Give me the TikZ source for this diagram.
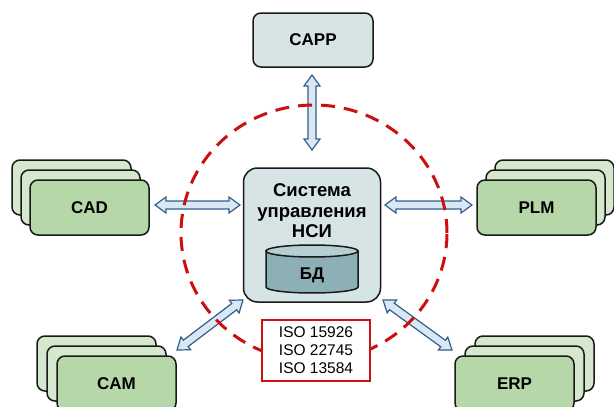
\documentclass[tikz,border=0pt]{standalone}
\usepackage{fontspec}
\setmainfont{Liberation Sans}
\usetikzlibrary{calc}
\definecolor{boxgray}{HTML}{D7E4E6}
\definecolor{greenfront}{HTML}{B6D7A8}
\definecolor{greenback}{HTML}{D5E8CD}
\definecolor{cylfill}{HTML}{8DB0B6}
\definecolor{cyltop}{HTML}{B5CFD3}
\definecolor{arrfill}{HTML}{DAE8F5}
\definecolor{arrline}{HTML}{335E8C}
\definecolor{dashred}{HTML}{CC1010}
\tikzset{
  sysbox/.style={draw=black!90, line width=1.5pt, rounded corners=8pt,
    minimum width=119pt, minimum height=55pt, inner sep=0pt,
    font=\fontsize{17}{18}\selectfont\bfseries},
  frontbox/.style={sysbox, fill=greenfront},
  backbox/.style={sysbox, fill=greenback},
  grayboxsty/.style={sysbox, fill=boxgray, minimum width=120pt, minimum height=54pt},
  arrowsty/.style={fill=arrfill, draw=arrline, line width=1.2pt, line join=miter},
  ringsty/.style={draw=dashred, line width=3pt, dash pattern=on 14pt off 9pt},
}
\newcommand\dblarrow[2]{%
  \coordinate (t1) at ($(#1)!11pt!(#2)$);
  \coordinate (t2) at ($(#2)!11pt!(#1)$);
  \filldraw[arrowsty] (#1)
    -- ($(t1)!8pt!90:(#2)$)
    -- ($(t1)!4pt!90:(#2)$)
    -- ($(t2)!4pt!-90:(#1)$)
    -- ($(t2)!8pt!-90:(#1)$)
    -- (#2)
    -- ($(t2)!8pt!90:(#1)$)
    -- ($(t2)!4pt!90:(#1)$)
    -- ($(t1)!4pt!-90:(#2)$)
    -- ($(t1)!8pt!-90:(#2)$)
    -- cycle;}
\begin{document}
\begin{tikzpicture}[x=1pt,y=-1pt]
\useasboundingbox[fill=white] (0,0) rectangle (614,407);
% top
\node[grayboxsty] (capp) at (313,40) {CAPP};
% CAD stack
\node[backbox] (cad3) at (71.5,187.5) {};
\node[backbox] (cad2) at (80.5,197.5) {};
\node[frontbox] (cad) at (89.5,207.5) {CAD};
% PLM stack
\node[backbox] (plm3) at (554.5,187.5) {};
\node[backbox] (plm2) at (545.5,197.5) {};
\node[frontbox] (plm) at (536.5,207.5) {PLM};
% CAM stack
\node[backbox] (cam3) at (96.5,363.5) {};
\node[backbox] (cam2) at (106.5,373.5) {};
\node[frontbox] (cam) at (116.5,383.5) {CAM};
% ERP stack
\node[backbox] (erp3) at (534.5,363.5) {};
\node[backbox] (erp2) at (524.5,373.5) {};
\node[frontbox] (erp) at (514.5,383.5) {ERP};
% arrow end points
\coordinate (pa1) at (312,75);  \coordinate (pa2) at (312,150);
\coordinate (pb1) at (155,205); \coordinate (pb2) at (240,205);
\coordinate (pc1) at (385,205); \coordinate (pc2) at (472,205);
\coordinate (pd1) at (177,350); \coordinate (pd2) at (243,300);
\coordinate (pe1) at (383,300); \coordinate (pe2) at (452,350);
\dblarrow{pa1}{pa2}
\dblarrow{pb1}{pb2}
\dblarrow{pc1}{pc2}
\dblarrow{pd1}{pd2}
\dblarrow{pe1}{pe2}
% dashed ring
\path[ringsty] (314,233) ellipse [x radius=133pt, y radius=128pt];
% central system
\node[draw=black!90, line width=1.5pt, rounded corners=14pt, fill=boxgray,
  minimum width=137pt, minimum height=134pt] (nsi) at (312,235) {};
\node[align=center, font=\fontsize{18.5}{20.5}\selectfont\bfseries] (nsitext) at (312,211) {Система\\управления\\НСИ};
% database cylinder
\filldraw[fill=cylfill, draw=black!90, line width=1.5pt]
  (266,251) -- (266,287) arc[start angle=180, end angle=360, x radius=46pt, y radius=6pt]
  -- (358,251) -- cycle;
\filldraw[fill=cyltop, draw=black!90, line width=1.5pt] (312,251) ellipse [x radius=46pt, y radius=6pt];
\node[font=\fontsize{17}{18}\selectfont\bfseries] (bd) at (312,275) {БД};
% standards box
\node[draw=dashred, line width=2pt, fill=white, minimum width=108pt, minimum height=61pt,
  align=center, inner sep=0pt, font=\fontsize{15.5}{18}\selectfont] (iso) at (316,350.5)
  {ISO 15926\\ISO 22745\\ISO 13584};
\end{tikzpicture}
\end{document}
